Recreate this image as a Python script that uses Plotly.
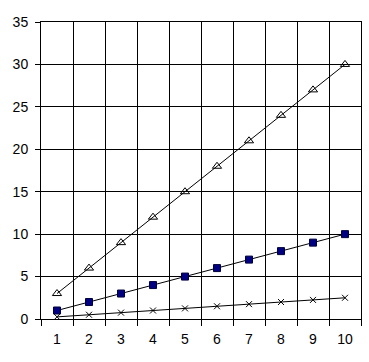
import plotly.graph_objects as go

categories = [1, 2, 3, 4, 5, 6, 7, 8, 9, 10]
triangle_vals = [3, 6, 9, 12, 15, 18, 21, 24, 27, 30]
square_vals = [1, 2, 3, 4, 5, 6, 7, 8, 9, 10]
cross_vals = [0.25, 0.5, 0.75, 1.0, 1.25, 1.5, 1.75, 2.0, 2.25, 2.5]
y_ticks = [0, 5, 10, 15, 20, 25, 30, 35]
boundaries = [c - 0.5 for c in categories] + [categories[-1] + 0.5]

fig = go.Figure()
fig.add_trace(go.Scatter(x=categories, y=triangle_vals, mode="lines+markers",
                         line=dict(color="black", width=1),
                         marker=dict(symbol="triangle-up-open", size=8, color="black", line=dict(width=1))))
fig.add_trace(go.Scatter(x=categories, y=square_vals, mode="lines+markers",
                         line=dict(color="black", width=1),
                         marker=dict(symbol="square", size=7, color="#000080", line=dict(width=1, color="#000040"))))
fig.add_trace(go.Scatter(x=categories, y=cross_vals, mode="lines+markers",
                         line=dict(color="black", width=1),
                         marker=dict(symbol="x-thin-open", size=6, color="black", line=dict(width=1, color="black"))))
fig.add_trace(go.Scatter(x=boundaries, y=[None]*len(boundaries), xaxis="x2", showlegend=False, hoverinfo="skip"))

fig.update_layout(
    width=369, height=362,
    margin=dict(l=41, r=8, t=22, b=43),
    paper_bgcolor="white", plot_bgcolor="white",
    showlegend=False,
    font=dict(family="Arial, Liberation Sans", size=14, color="black"),
    xaxis=dict(range=[0.5, 10.5], tickvals=categories, ticktext=[str(c) for c in categories],
               showgrid=False, zeroline=False, ticks="", showline=False, ticklabelstandoff=10),
    xaxis2=dict(range=[0.5, 10.5], overlaying="x", side="bottom", tickvals=boundaries,
                showticklabels=False, showgrid=True, gridcolor="black", gridwidth=1,
                ticks="outside", ticklen=6, tickcolor="black", zeroline=False,
                showline=True, linecolor="black", mirror=True),
    yaxis=dict(range=[0, 35], tickvals=y_ticks, showgrid=True, gridcolor="black", gridwidth=1,
               ticks="outside", ticklen=5, tickcolor="black", zeroline=False,
               showline=True, linecolor="black", mirror=True, ticklabelstandoff=4),
)
fig.write_html("out.html", post_script="document.body.style.margin='0px';", config={"displayModeBar": False})
